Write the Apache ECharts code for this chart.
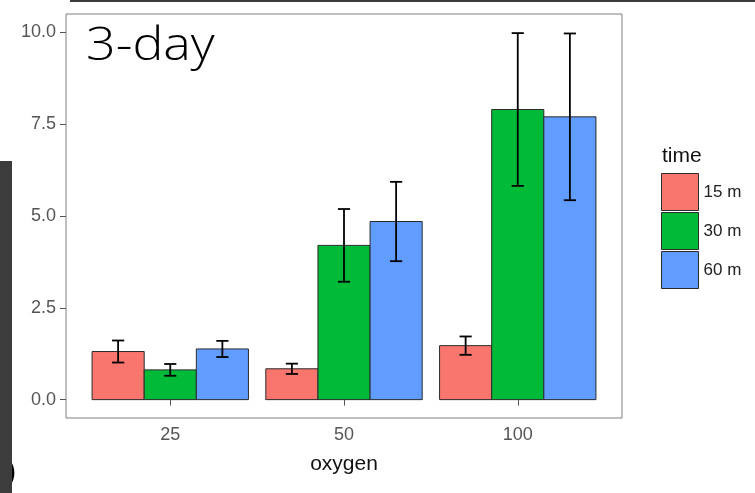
<!DOCTYPE html>
<html>
<head>
<meta charset="utf-8">
<script src="https://cdn.jsdelivr.net/npm/echarts@6/dist/echarts.min.js"></script>
<style>
html,body{margin:0;padding:0;background:#fff;}
#chart{width:755px;height:493px;}
</style>
</head>
<body>
<div id="chart"></div>
<script>
// ---- data ----
var categories = ['25', '50', '100'];
var seriesNames = ['15 m', '30 m', '60 m'];
var mean15 = [1.31, 0.84, 1.47];
var mean30 = [0.81, 4.20, 7.90];
var mean60 = [1.38, 4.85, 7.70];
var se15 = [0.30, 0.14, 0.25];
var se30 = [0.16, 0.99, 2.08];
var se60 = [0.22, 1.08, 2.27];
var yTicks = [0, 2.5, 5, 7.5, 10];

var colors = ['#F8766D', '#00BA38', '#619CFF'];
var means = [mean15, mean30, mean60];
var ses = [se15, se30, se60];
var dodge = 0.3;

var chart = echarts.init(document.getElementById('chart'));

function barSeries(k) {
  var data = means[k].map(function (v, i) { return [i + 1, v]; });
  return {
    name: seriesNames[k],
    type: 'custom',
    color: colors[k],
    itemStyle: { color: colors[k] },
    encode: { x: 0, y: 1 },
    data: data,
    z: 2,
    renderItem: function (params, api) {
      var c = api.value(0), v = api.value(1);
      var x0 = c - 0.45 + k * dodge, x1 = x0 + dodge;
      var p0 = api.coord([x0, v]);
      var p1 = api.coord([x1, 0]);
      return {
        type: 'rect',
        shape: { x: p0[0], y: p0[1], width: p1[0] - p0[0], height: p1[1] - p0[1] },
        style: { fill: colors[k], stroke: '#2b2b2b', lineWidth: 1 }
      };
    }
  };
}

var errData = [];
for (var k = 0; k < 3; k++) {
  for (var i = 0; i < 3; i++) {
    var xc = i + 1 - 0.45 + k * dodge + dodge / 2;
    errData.push([xc, means[k][i] - ses[k][i], means[k][i] + ses[k][i]]);
  }
}

var errSeries = {
  name: 'err',
  type: 'custom',
  data: errData,
  encode: { x: 0, y: [1, 2] },
  z: 5,
  renderItem: function (params, api) {
    var x = api.value(0), lo = api.value(1), hi = api.value(2);
    var w = 0.035;
    var pl = api.coord([x, lo]), ph = api.coord([x, hi]);
    var l0 = api.coord([x - w, lo]), l1 = api.coord([x + w, lo]);
    var h0 = api.coord([x - w, hi]), h1 = api.coord([x + w, hi]);
    var st = { stroke: '#000', lineWidth: 1.8 };
    return {
      type: 'group',
      children: [
        { type: 'line', shape: { x1: pl[0], y1: pl[1], x2: ph[0], y2: ph[1] }, style: st },
        { type: 'line', shape: { x1: l0[0], y1: l0[1], x2: l1[0], y2: l1[1] }, style: st },
        { type: 'line', shape: { x1: h0[0], y1: h0[1], x2: h1[0], y2: h1[1] }, style: st }
      ]
    };
  }
};

var option = {
  animation: false,
  backgroundColor: '#ffffff',
  grid: {
    left: 66, top: 14, width: 556, height: 404,
    show: true, borderColor: '#7f7f7f', borderWidth: 1, backgroundColor: '#fff'
  },
  xAxis: {
    type: 'value',
    min: 0.4, max: 3.6,
    name: 'oxygen',
    nameLocation: 'middle',
    nameGap: 36,
    nameTextStyle: { fontSize: 21, color: '#111', fontFamily: 'Liberation Sans' },
    axisLine: { show: false },
    splitLine: { show: false },
    axisTick: { show: true, length: 6, customValues: [1, 2, 3], lineStyle: { color: '#555' } },
    axisLabel: {
      customValues: [1, 2, 3],
      margin: 8,
      fontSize: 18,
      color: '#555',
      fontFamily: 'Liberation Sans',
      formatter: function (v) { return categories[Math.round(v) - 1] || ''; }
    }
  },
  yAxis: {
    type: 'value',
    min: -0.5, max: 10.5,
    axisLine: { show: false },
    splitLine: { show: false },
    axisTick: { show: true, length: 6, customValues: yTicks, lineStyle: { color: '#555' } },
    axisLabel: {
      customValues: yTicks,
      margin: 10,
      fontSize: 18,
      color: '#555',
      fontFamily: 'Liberation Sans',
      formatter: function (v) { return v.toFixed(1); }
    }
  },
  legend: {
    data: seriesNames,
    orient: 'vertical',
    left: 661, top: 173,
    itemWidth: 37, itemHeight: 37, itemGap: 1,
    icon: 'rect',
    padding: 0,
    itemStyle: { borderColor: '#2b2b2b', borderWidth: 1 },
    textStyle: { fontSize: 17, color: '#222', fontFamily: 'Liberation Sans' }
  },
  graphic: [
    { type: 'rect', left: 70, top: 0, shape: { width: 685, height: 2 }, style: { fill: '#3a3a3a' }, z: 10 },
    { type: 'text', left: 7, top: 460, style: { text: ')', fontSize: 26, fontWeight: 'bold', fill: '#000', fontFamily: 'Liberation Sans' }, z: 9 },
    { type: 'rect', left: 0, top: 161, shape: { width: 12, height: 332 }, style: { fill: '#3c3c3c' }, z: 10 },
    { type: 'text', x: 86, y: 24, scaleX: 1.13, style: { text: '3-day', fontSize: 46, fontWeight: 300, fill: '#000', fontFamily: 'Open Sans' }, z: 10 },
    { type: 'text', left: 662, top: 146, style: { text: 'time', fontSize: 21, fill: '#111', fontFamily: 'Liberation Sans' }, z: 10 }
  ],
  series: [barSeries(0), barSeries(1), barSeries(2), errSeries]
};

chart.setOption(option);
</script>
</body>
</html>
